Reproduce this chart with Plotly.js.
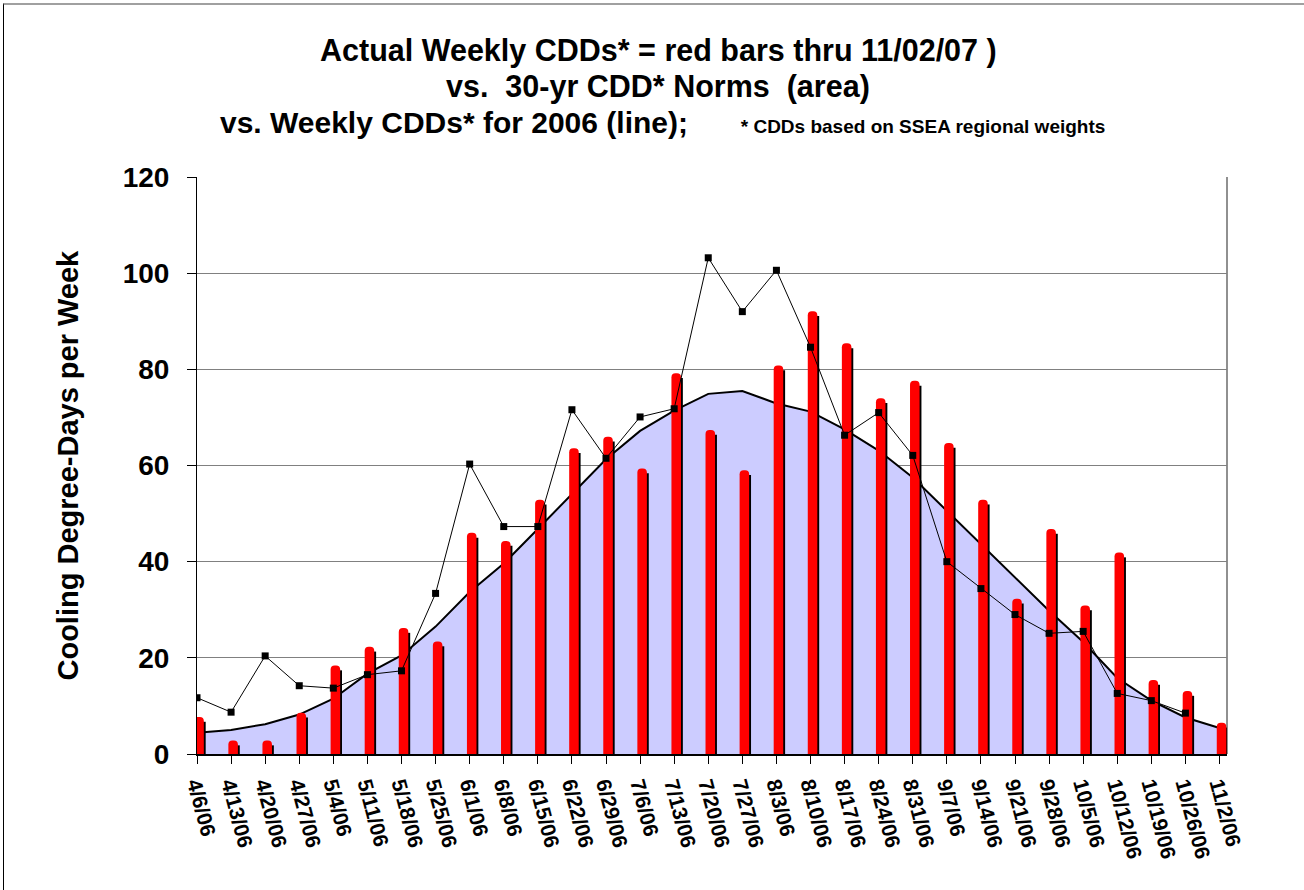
<!DOCTYPE html>
<html>
<head>
<meta charset="utf-8">
<script src="https://cdn.plot.ly/plotly-3.0.1.min.js"></script>
<style>
html,body{margin:0;padding:0;background:#fff;}
#chart{position:absolute;left:0;top:0;width:1304px;height:890px;}
#frame{position:absolute;left:3px;top:3px;right:0;bottom:0;border-left:1px solid #000;border-top:2px solid #a0a0a0;pointer-events:none;}
</style>
</head>
<body>
<div id="chart"></div>
<div id="frame"></div>
<script>
const weeks = ["4/6/06","4/13/06","4/20/06","4/27/06","5/4/06","5/11/06","5/18/06","5/25/06","6/1/06","6/8/06","6/15/06","6/22/06","6/29/06","7/6/06","7/13/06","7/20/06","7/27/06","8/3/06","8/10/06","8/17/06","8/24/06","8/31/06","9/7/06","9/14/06","9/21/06","9/28/06","10/5/06","10/12/06","10/19/06","10/26/06","11/2/06"];
const actual2007 = [7.7,2.8,2.8,8.6,18.4,22.3,26.2,23.4,46.0,44.3,52.9,63.6,66.0,59.4,79.2,67.4,59.0,80.8,92.1,85.4,74.0,77.6,64.7,52.9,32.3,46.8,30.9,41.9,15.4,13.1,6.5];
const norms30yr = [4.4,5.0,6.2,8.2,11.5,16.7,20.5,26.5,33.7,39.6,46.8,54.0,61.3,67.2,71.4,74.9,75.5,72.9,71.2,67.5,63.1,57.5,50.6,43.6,36.6,29.8,23.3,15.8,11.1,7.6,5.4];
const weekly2006 = [11.7,8.7,20.4,14.2,13.7,16.5,17.3,33.4,60.3,47.3,47.3,71.6,61.5,70.1,71.8,103.2,92.0,100.6,84.6,66.3,71.0,62.1,40.0,34.4,29.0,25.1,25.5,12.6,11.1,8.5,null];
const yTicks = [0,20,40,60,80,100,120];

const FONT = "Liberation Sans, Arial, sans-serif";
const xr = [0, 30.22];

const traces = [
  { type:'scatter', mode:'lines', x:weeks, y:norms30yr, fill:'tozeroy',
    fillcolor:'#ccccff', line:{color:'#000', width:2}, xaxis:'x', yaxis:'y', hoverinfo:'skip' },
  { type:'bar', x:weeks, y:actual2007.map(v => v - 1), offset:0.15, width:0.105,
    marker:{color:'#000'}, xaxis:'x2', yaxis:'y2', hoverinfo:'skip' },
  { type:'bar', x:weeks, y:actual2007, offset:-0.08, width:0.28,
    marker:{color:'#ff0000', cornerradius:4}, xaxis:'x2', yaxis:'y2' },
  { type:'scatter', mode:'lines+markers', x:weeks, y:weekly2006,
    line:{color:'#000', width:1}, marker:{symbol:'square', size:7, color:'#000'},
    xaxis:'x2', yaxis:'y2', connectgaps:false }
];

const layout = {
  width:1304, height:890,
  margin:{l:197, r:77, t:177, b:136, pad:0},
  paper_bgcolor:'#fff', plot_bgcolor:'#fff',
  showlegend:false,
  barmode:'overlay',
  font:{family:FONT, color:'#000'},
  xaxis:{ type:'category', range:xr, showgrid:false, zeroline:false,
    showline:true, linecolor:'#000', linewidth:2,
    ticks:'outside', ticklen:8, tickcolor:'#000', tickwidth:1,
    tickangle:75, tickfont:{family:FONT, size:21, weight:'bold', color:'#000'} },
  yaxis:{ range:[0,120], tickvals:yTicks, showgrid:true, gridcolor:'#808080', gridwidth:1,
    zeroline:false, showline:true, linecolor:'#000', linewidth:1,
    ticks:'outside', ticklen:9, tickcolor:'#000',
    ticklabelstandoff:12,
    tickfont:{family:FONT, size:28, weight:'bold', color:'#000'} },
  xaxis2:{ type:'category', range:xr, overlaying:'x', visible:false },
  yaxis2:{ range:[0,120], overlaying:'y', visible:false },
  shapes:[
    { type:'line', xref:'paper', yref:'paper', x0:1, x1:1, y0:0, y1:1,
      line:{color:'#909090', width:2}, layer:'below' }
  ],
  annotations:[
    { xref:'paper', yref:'paper', x:0.4476, y:1.2201, xanchor:'center', yanchor:'middle', showarrow:false,
      text:'Actual Weekly CDDs* = red bars thru 11/02/07 )',
      font:{family:FONT, size:30.5, weight:'bold', color:'#000'} },
    { xref:'paper', yref:'paper', x:0.4476, y:1.156, xanchor:'center', yanchor:'middle', showarrow:false,
      text:'vs.\u00a0\u00a030-yr CDD* Norms\u00a0\u00a0(area)',
      font:{family:FONT, size:30.5, weight:'bold', color:'#000'} },
    { xref:'paper', yref:'paper', x:0.4515, y:1.0936, xanchor:'center', yanchor:'middle', showarrow:false,
      text:'vs. Weekly CDDs* for 2006 (line);<span style="font-size:19px">\u00a0\u00a0\u00a0\u00a0\u00a0\u00a0\u00a0\u00a0\u00a0\u00a0* CDDs based on SSEA regional weights</span>',
      font:{family:FONT, size:30, weight:'bold', color:'#000'} },
    { xref:'paper', yref:'paper', x:-0.1262, y:0.5, xanchor:'center', yanchor:'middle', showarrow:false,
      textangle:-90, text:'Cooling Degree-Days per Week',
      font:{family:FONT, size:29, weight:'bold', color:'#000'} }
  ]
};

Plotly.newPlot('chart', traces, layout, {staticPlot:true, displayModeBar:false});
</script>
</body>
</html>
